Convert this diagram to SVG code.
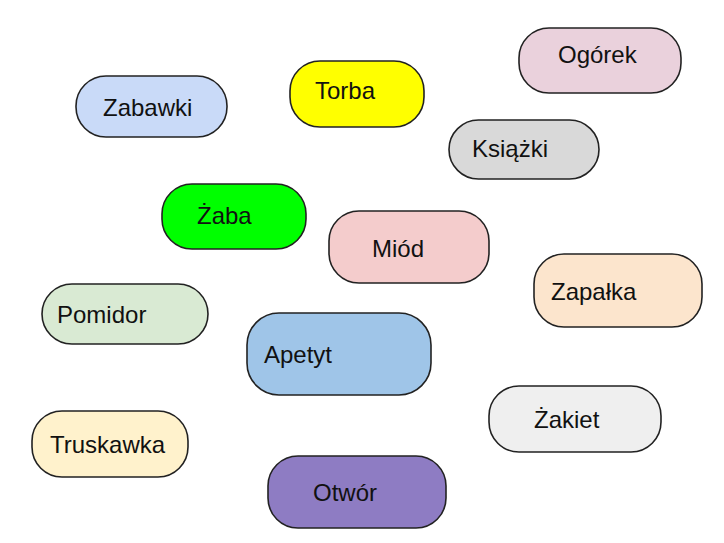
<svg xmlns="http://www.w3.org/2000/svg" width="724" height="543" viewBox="0 0 724 543">
<style>
.b{stroke:#222;stroke-width:1.6}
.t{font-family:"Liberation Sans",Arial,sans-serif;font-size:24px;fill:#111}
</style>
<rect width="724" height="543" fill="#fff"/>
<g id="connectors"/>
<g id="ogorek"><rect class="b" x="519" y="28" width="162" height="65" rx="30" fill="#ead1dc"/><text class="t" x="558" y="63">Ogórek</text></g>
<g id="torba"><rect class="b" x="290" y="61" width="134" height="66" rx="30" fill="#ffff00"/><text class="t" x="315" y="99">Torba</text></g>
<g id="zabawki"><rect class="b" x="76" y="76" width="151" height="61" rx="30" fill="#c9daf8"/><text class="t" x="103" y="116">Zabawki</text></g>
<g id="ksiazki"><rect class="b" x="449" y="120" width="150" height="59" rx="29.5" fill="#d9d9d9"/><text class="t" x="472" y="157">Książki</text></g>
<g id="zaba"><rect class="b" x="162" y="184" width="144" height="65" rx="30" fill="#00ff00"/><text class="t" x="197" y="224">Żaba</text></g>
<g id="miod"><rect class="b" x="329" y="211" width="160" height="72" rx="30" fill="#f4cccc"/><text class="t" x="372" y="257">Miód</text></g>
<g id="zapalka"><rect class="b" x="534" y="254" width="168" height="73" rx="30" fill="#fce5cd"/><text class="t" x="551" y="300">Zapałka</text></g>
<g id="pomidor"><rect class="b" x="42" y="284" width="166" height="60" rx="30" fill="#d9ead3"/><text class="t" x="57" y="323">Pomidor</text></g>
<g id="apetyt"><rect class="b" x="247" y="313" width="184" height="82" rx="32" fill="#9fc5e8"/><text class="t" x="264" y="363">Apetyt</text></g>
<g id="zakiet"><rect class="b" x="489" y="386" width="172" height="66" rx="30" fill="#efefef"/><text class="t" x="534" y="428">Żakiet</text></g>
<g id="truskawka"><rect class="b" x="32" y="411" width="156" height="66" rx="30" fill="#fff2cc"/><text class="t" x="50" y="453">Truskawka</text></g>
<g id="otwor"><rect class="b" x="268" y="456" width="178" height="72" rx="30" fill="#8e7cc3"/><text class="t" x="313" y="501">Otwór</text></g>
</svg>
